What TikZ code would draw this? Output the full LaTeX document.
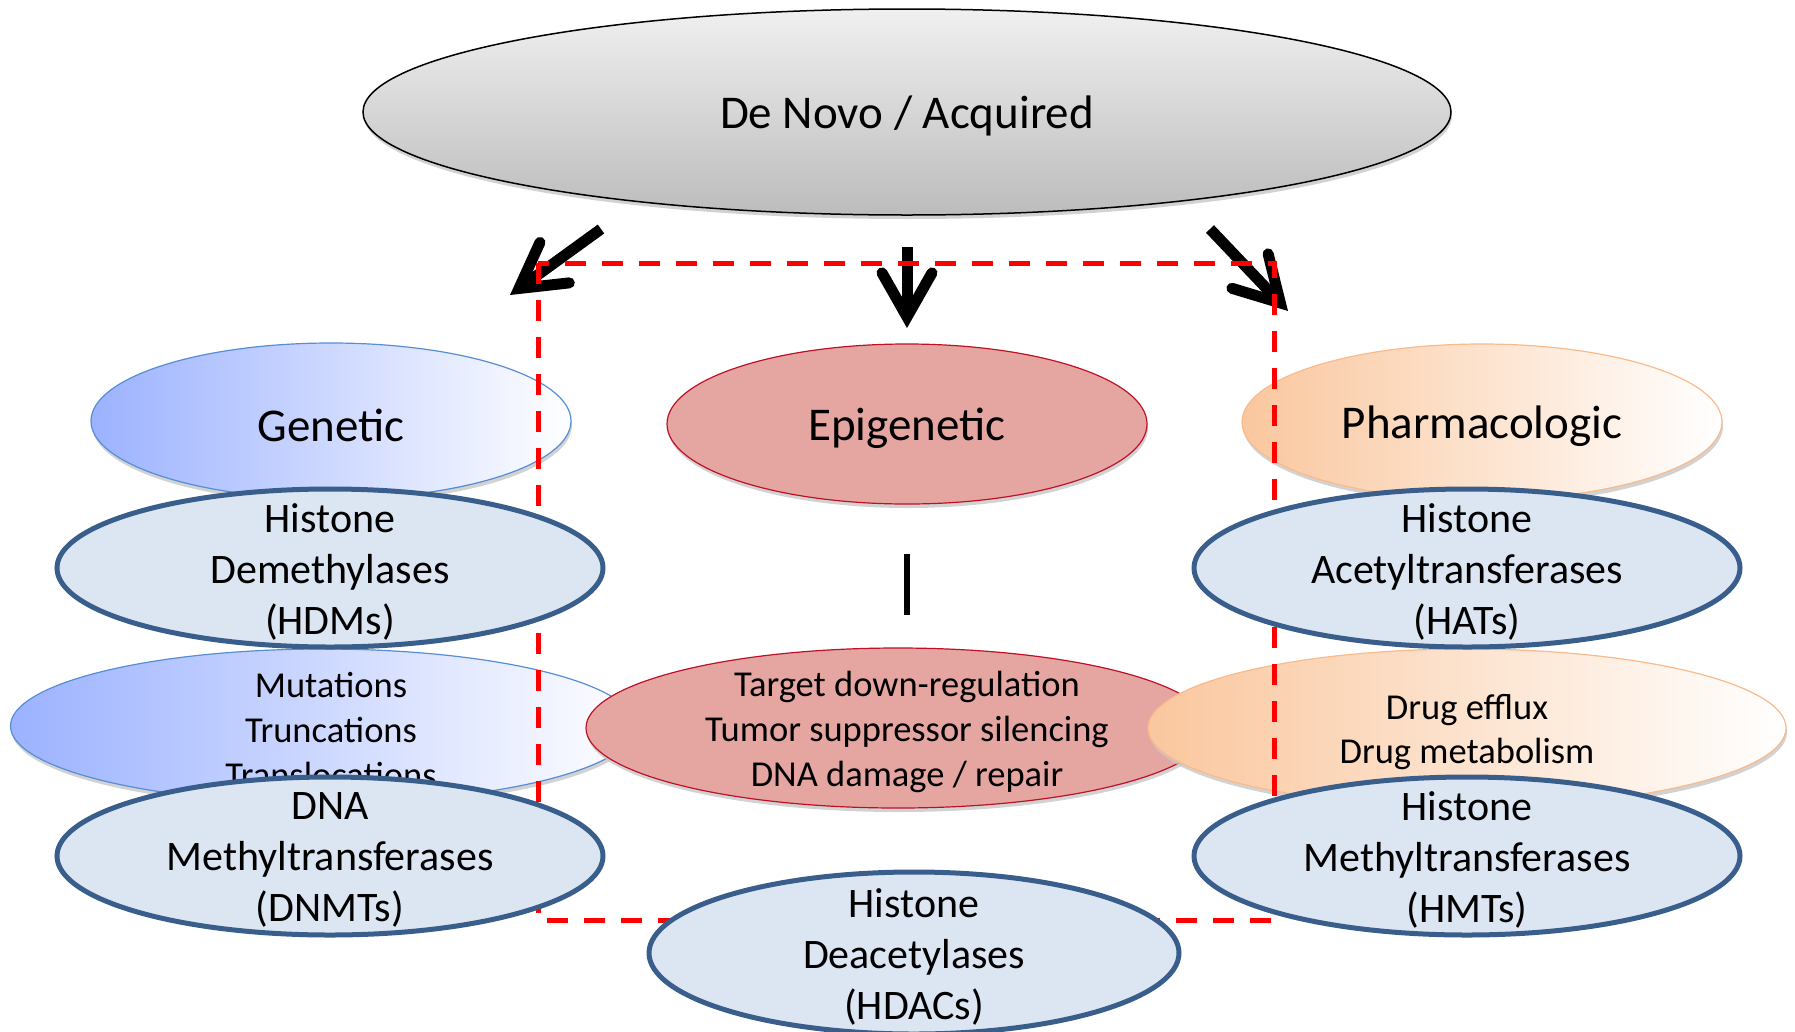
\documentclass[tikz,border=0pt]{standalone}
\usepackage{fontspec}
\setmainfont{Carlito}
\usetikzlibrary{shapes.geometric,arrows.meta,shadows}

\definecolor{genblue}{RGB}{156,178,255}
\definecolor{genline}{RGB}{85,142,213}
\definecolor{epifill}{RGB}{229,166,161}
\definecolor{epiline}{RGB}{192,16,40}
\definecolor{phafill}{RGB}{250,199,158}
\definecolor{phaline}{RGB}{249,186,140}
\definecolor{enzfill}{RGB}{220,230,242}
\definecolor{enzline}{RGB}{58,94,140}
\definecolor{topgray}{RGB}{240,240,240}
\definecolor{botgray}{RGB}{188,188,188}
\definecolor{dashred}{RGB}{255,0,0}

\tikzset{
  oval/.style={ellipse, inner sep=0pt, outer sep=0pt},
  softshadow/.style={drop shadow={shadow xshift=1pt, shadow yshift=-4pt, fill=black!22, opacity=0.8}},
  txt/.style={yshift=-4pt},
  headfont/.style={txt, font=\fontsize{47}{57}\selectfont},
  enzfont/.style={txt, font=\fontsize{42}{51.3}\selectfont, align=center},
  smallfont/.style={txt, font=\fontsize{36.5}{44.6}\selectfont, align=center},
  srcoval/.style={oval, softshadow, draw=black, line width=1.5pt, top color=topgray, bottom color=botgray},
  genoval/.style={oval, softshadow, draw=genline, line width=1.2pt, left color=genblue, right color=white},
  epioval/.style={oval, softshadow, draw=epiline, line width=1.2pt, fill=epifill},
  phaoval/.style={oval, softshadow, draw=phaline, line width=1.2pt, left color=phafill, right color=white},
  enzoval/.style={oval, draw=enzline, fill=enzfill, line width=5pt, minimum width=546pt, minimum height=158pt},
  bigarrow/.style={line width=11pt,
    -{Straight Barb[length=44pt, width=50pt, line width=11pt, line cap=round, line join=miter]}},
  barline/.style={line width=5.5pt},
  redbox/.style={draw=dashred, line width=5pt, dash pattern=on 21pt off 16pt}
}

\begin{document}
\begin{tikzpicture}[x=1pt, y=-1pt]
\useasboundingbox (0,0) rectangle (1795,1031);

% source of resistance
\node[srcoval, minimum width=1088pt, minimum height=206pt] (src) at (907,112) {};
\node[headfont] (src-t) at (src.center) {De Novo / Acquired};

% arrow ends
\coordinate (la-s) at (601,229);
\coordinate (la-e) at (510,295);
\coordinate (ma-s) at (907,247);
\coordinate (ma-e) at (907,328);
\coordinate (ra-s) at (1210,229);
\coordinate (ra-e) at (1288,311);
\draw[bigarrow] (la-s) -- (la-e);
\draw[bigarrow] (ma-s) -- (ma-e);
\draw[bigarrow] (ra-s) -- (ra-e);

% three categories
\node[genoval, minimum width=480pt, minimum height=156pt] (gen) at (331,421) {};
\node[headfont] (gen-t) at (gen.center) {Genetic};
\node[epioval, minimum width=480pt, minimum height=160pt] (epi) at (907,424) {};
\node[headfont] (epi-t) at (epi.center) {Epigenetic};
\node[phaoval, minimum width=480pt, minimum height=156pt] (pha) at (1482,422) {};
\node[headfont] (pha-t) at (pha.center) {Pharmacologic};

% mechanisms
\node[genoval, minimum width=625pt, minimum height=154pt] (mut) at (323,726) {};
\node[smallfont] (mut-t) at (331,726) {Mutations\\Truncations\\Translocations};
\node[epioval, minimum width=624pt, minimum height=160pt] (tgt) at (898,728) {};
\node[smallfont] (tgt-t) at (907,728) {Target down-regulation\\Tumor suppressor silencing\\DNA damage / repair};
\node[phaoval, minimum width=638pt, minimum height=158pt] (drug) at (1467,728) {};
\node[smallfont] (drug-t) at (drug.center) {Drug efflux\\Drug metabolism};

% inhibition bar
\coordinate (bar-s) at (907,554);
\coordinate (bar-e) at (907,615);
\draw[barline] (bar-s) -- (bar-e);

% epigenetic frame
\draw[redbox] (538,263) rectangle (1274,920);

% enzyme families
\node[enzoval] (hdm) at (330,568) {};
\node[enzfont] (hdm-t) at (hdm.center) {Histone\\Demethylases\\(HDMs)};
\node[enzoval] (hat) at (1467,568) {};
\node[enzfont] (hat-t) at (hat.center) {Histone\\Acetyltransferases\\(HATs)};
\node[enzoval] (dnmt) at (330,856) {};
\node[enzfont] (dnmt-t) at (dnmt.center) {DNA\\Methyltransferases\\(DNMTs)};
\node[enzoval] (hmt) at (1467,856) {};
\node[enzfont] (hmt-t) at (hmt.center) {Histone\\Methyltransferases\\(HMTs)};
\node[enzoval, minimum width=530pt, minimum height=162pt] (hdac) at (914,953) {};
\node[enzfont] (hdac-t) at (hdac.center) {Histone\\Deacetylases\\(HDACs)};
\end{tikzpicture}
\end{document}
